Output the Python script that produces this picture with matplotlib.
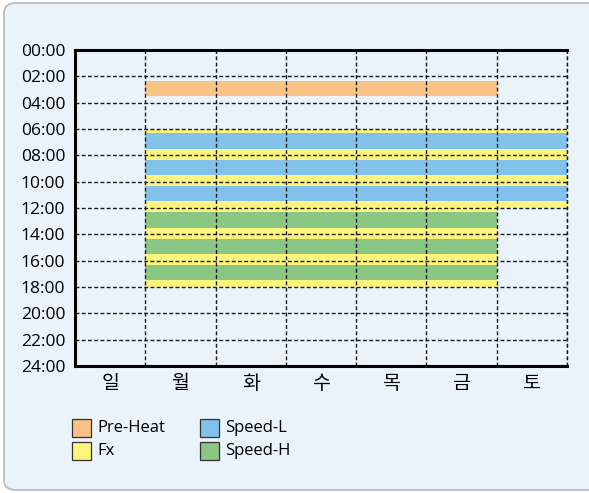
import matplotlib
matplotlib.use("Agg")
import matplotlib.pyplot as plt
from matplotlib.patches import FancyBboxPatch, Rectangle

# ---------------- data ----------------
days = ['일', '월', '화', '수', '목', '금', '토']
hour_ticks = list(range(0, 25, 2))
hour_labels = [f"{h:02d}:00" for h in hour_ticks]

series_names = ['Pre-Heat', 'Fx', 'Speed-L', 'Speed-H']
series_colors = ['#F9C386', '#FFF57C', '#82C1EA', '#8BC784']

# (day index list, list of (start_hour, end_hour))
preheat_days = [1, 2, 3, 4, 5]
preheat_spans = [(2.33, 3.5)]

fx_days_full = [1, 2, 3, 4, 5]
fx_spans_full = [(6.0, 18.0)]
fx_days_half = [6]
fx_spans_half = [(6.0, 12.0)]

speedl_days = [1, 2, 3, 4, 5, 6]
speedl_spans = [(6.33, 7.5), (8.33, 9.5), (10.33, 11.5)]

speedh_days = [1, 2, 3, 4, 5]
speedh_spans = [(12.33, 13.5), (14.33, 15.5), (16.33, 17.5)]

# ---------------- figure ----------------
W, H = 589, 493
fig = plt.figure(figsize=(W / 100, H / 100), dpi=100)
fig.patch.set_facecolor('white')

bg = FancyBboxPatch((4 / W, 3 / H), 620 / W, 487 / H,
                    boxstyle="round,pad=0,rounding_size=0.02",
                    transform=fig.transFigure, facecolor='#EAF2FA',
                    edgecolor='#BBBBBB', linewidth=1.3, zorder=-10)
fig.patches.append(bg)

left, right, top, bottom = 75, 567, 50, 366
ax = fig.add_axes([left / W, 1 - bottom / H, (right - left) / W, (bottom - top) / H])
ax.set_zorder(1)
ax.set_facecolor('#EAF2FA')


def draw(days_list, spans, color):
    for s, e in spans:
        ax.bar([d + 0.5 for d in days_list], [e - s] * len(days_list),
               bottom=[s] * len(days_list), width=1.0, color=color,
               linewidth=0, zorder=1)


draw(preheat_days, preheat_spans, series_colors[0])
draw(fx_days_full, fx_spans_full, series_colors[1])
draw(fx_days_half, fx_spans_half, series_colors[1])
draw(speedl_days, speedl_spans, series_colors[2])
draw(speedh_days, speedh_spans, series_colors[3])

ax.set_xlim(0, 7)
ax.set_ylim(24, 0)

ax.set_yticks(hour_ticks)
ax.set_yticklabels(hour_labels, fontfamily='Open Sans', fontsize=12.5)
ax.set_xticks([i + 0.5 for i in range(7)])
ax.set_xticklabels(days, fontfamily='Noto Sans CJK KR', fontsize=14,
                   fontweight='light')
ax.set_xticks(range(1, 8), minor=True)
ax.tick_params(axis='both', which='both', length=0)
ax.tick_params(axis='y', pad=7)
ax.tick_params(axis='x', pad=5)

ax.set_axisbelow(False)
gkw = dict(color='#1a1a1a', linewidth=1.0, linestyle=(0, (2.8, 1.7)))
ax.grid(which='major', axis='y', **gkw)
ax.grid(which='minor', axis='x', **gkw)
ax.grid(which='major', axis='x', visible=False)
ax.axvline(7, clip_on=False, zorder=3, **gkw)

for side in ['left', 'top', 'bottom']:
    ax.spines[side].set_linewidth(2.2)
    ax.spines[side].set_color('black')
    ax.spines[side].set_zorder(5)
ax.spines['right'].set_visible(False)

# ---------------- legend ----------------
legend_pos = [(72, 419), (72, 442), (200, 419), (200, 442)]
order = [0, 1, 2, 3]
for idx, (px, py) in zip(order, legend_pos):
    r = Rectangle((px / W, 1 - (py + 18) / H), 19 / W, 18 / H,
                  transform=fig.transFigure, facecolor=series_colors[idx],
                  edgecolor='#333333', linewidth=0.9, zorder=2)
    fig.patches.append(r)
    fig.text((px + 25) / W, 1 - (py + 9) / H, series_names[idx],
             fontfamily='Open Sans', fontsize=12, va='center', ha='left')

fig.savefig('out.png', dpi=100, facecolor='white')
